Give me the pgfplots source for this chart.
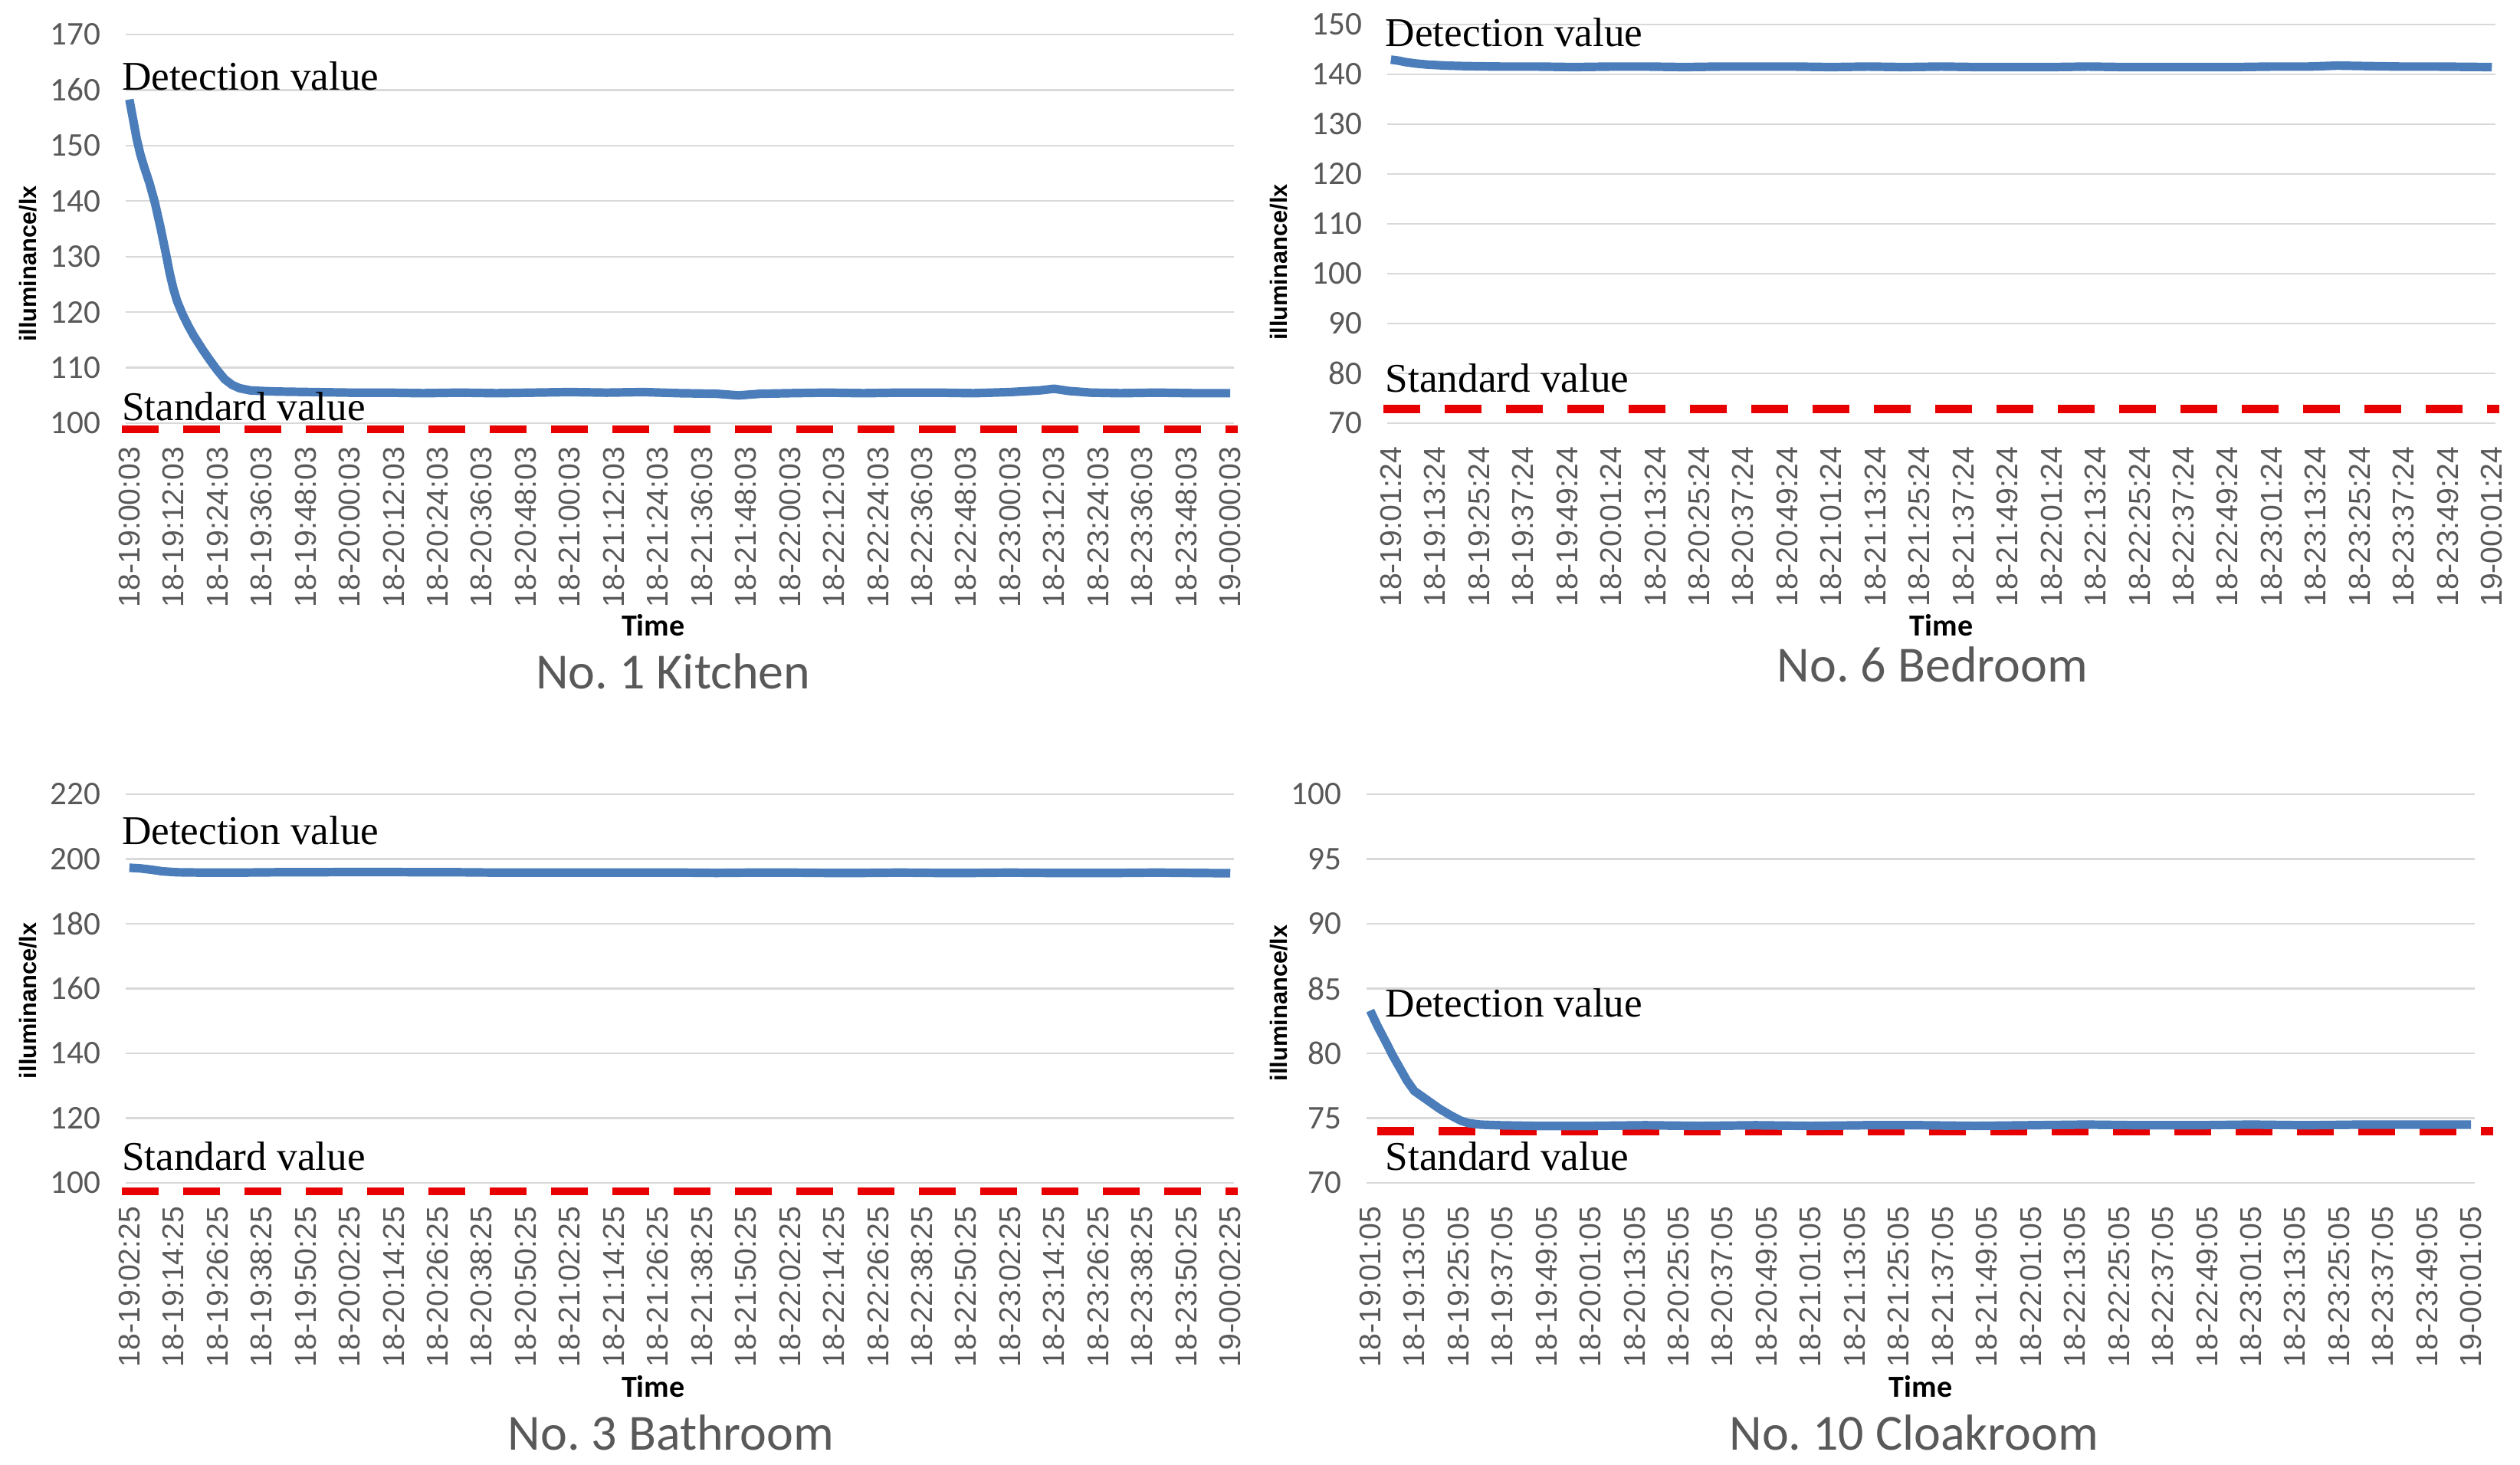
\documentclass[border=0pt]{standalone}
\usepackage{fontspec}
\setmainfont{Liberation Serif}
\newfontfamily\carlito{Carlito}
\newfontfamily\libsans{Liberation Sans}
\usepackage{pgfplots}
\pgfplotsset{compat=1.18}
\frenchspacing

\definecolor{txtgray}{HTML}{595959}
\definecolor{gridgray}{HTML}{D9D9D9}
\definecolor{curveblue}{HTML}{4A7DBA}
\definecolor{stdred}{HTML}{E80000}

\pgfplotsset{
  panel/.style={
    scale only axis, anchor=south west, width=361.5pt,
    xmin=-1, xmax=301, clip=false,
    axis line style={draw=none}, major tick length=0pt,
    ymajorgrids, grid style={draw=gridgray, line width=0.55pt},
    xtick={0,12,...,300},
    xticklabel style={font=\libsans\fontsize{9.8}{10}\selectfont, color=txtgray,
      rotate=90, anchor=east, inner sep=0pt},
    xticklabel shift=7.5pt,
    yticklabel style={font=\carlito\fontsize{10.8}{11}\selectfont, color=txtgray,
      anchor=east, inner sep=0pt},
    yticklabel shift=8pt,
    /pgf/number format/assume math mode=true,
  },
  detected/.style={color=curveblue, line width=2.8pt, line join=round, no markers},
  standard/.style={color=stdred, line width=2.6pt, dash pattern=on 12pt off 8pt, no markers},
}
\newcommand{\notefont}{\fontsize{13.3}{14}\selectfont}
\newcommand{\ylab}{\libsans\bfseries\fontsize{7.7}{8}\selectfont illuminance/lx}
\newcommand{\tlab}{\carlito\bfseries\fontsize{10}{11}\selectfont Time}
\newcommand{\ptitle}[1]{\carlito\fontsize{16.5}{18}\selectfont\color{txtgray}#1}

\begin{document}
\begin{tikzpicture}
\path[use as bounding box] (0,0) rectangle (822pt,477.5pt);

% No. 1 Kitchen
\begin{axis}[panel, at={(41pt,339.5pt)}, height=126.75pt,
  ymin=100, ymax=170, ytick={100,110,...,170},
  xticklabels={18-19:00:03,18-19:12:03,18-19:24:03,18-19:36:03,18-19:48:03,
    18-20:00:03,18-20:12:03,18-20:24:03,18-20:36:03,18-20:48:03,
    18-21:00:03,18-21:12:03,18-21:24:03,18-21:36:03,18-21:48:03,
    18-22:00:03,18-22:12:03,18-22:24:03,18-22:36:03,18-22:48:03,
    18-23:00:03,18-23:12:03,18-23:24:03,18-23:36:03,18-23:48:03,19-00:00:03}]
\addplot[standard] coordinates {(-2,98.9) (302,98.9)};
\addplot[detected] coordinates {
  (0,158.3) (1,154.8) (2,151.2) (3,148.4) (4,146.2) (5.5,143.2) (7,139.6)
  (8.5,135.2) (10,130.4) (11,127.0) (12,124.2) (13,122.0) (14.5,119.6)
  (16,117.6) (17.5,115.8) (20,113.2) (22,111.3) (24,109.5) (26,107.9)
  (28,106.9) (30,106.3) (33,105.9) (36,105.8)
  (40,105.7) (50,105.6) (60,105.5) (70,105.5) (80,105.4) (90,105.5) (100,105.4)
  (110,105.5) (120,105.6) (130,105.5) (140,105.6) (150,105.4) (160,105.3)
  (166,105.0) (172,105.3) (180,105.4) (190,105.5) (200,105.4) (210,105.5)
  (220,105.5) (230,105.4) (240,105.6) (248,105.9) (252,106.2) (256,105.8)
  (262,105.5) (270,105.4) (280,105.5) (290,105.4) (300,105.4)};
\node[anchor=base west, font=\notefont, inner sep=0pt] at (axis cs:-2.2,160) {Detection value};
\node[anchor=base west, font=\notefont, inner sep=0pt] at (axis cs:-2.2,100.5) {Standard value};
\node[rotate=90] at (axis description cs:-0.0878,0.41) {\ylab};
\node at (axis description cs:0.476,-0.519) {\tlab};
\node at (axis description cs:0.494,-0.639) {\ptitle{No. 1 Kitchen}};
\end{axis}

% No. 6 Bedroom
\begin{axis}[panel, at={(452.5pt,339.6pt)}, height=130pt,
  ymin=70, ymax=150, ytick={70,80,...,150},
  xticklabels={18-19:01:24,18-19:13:24,18-19:25:24,18-19:37:24,18-19:49:24,
    18-20:01:24,18-20:13:24,18-20:25:24,18-20:37:24,18-20:49:24,
    18-21:01:24,18-21:13:24,18-21:25:24,18-21:37:24,18-21:49:24,
    18-22:01:24,18-22:13:24,18-22:25:24,18-22:37:24,18-22:49:24,
    18-23:01:24,18-23:13:24,18-23:25:24,18-23:37:24,18-23:49:24,19-00:01:24}]
\addplot[standard] coordinates {(-2,72.8) (302,72.8)};
\addplot[detected] coordinates {
  (0,142.9) (2,142.7) (4,142.4) (7,142.1) (10,141.9) (15,141.7) (20,141.6)
  (30,141.5) (40,141.5) (50,141.4) (60,141.5) (70,141.5) (80,141.4) (90,141.5)
  (100,141.5) (110,141.5) (120,141.4) (130,141.5) (140,141.4) (150,141.5)
  (160,141.4) (170,141.4) (180,141.4) (190,141.5) (200,141.4) (210,141.4)
  (220,141.4) (230,141.4) (240,141.5) (250,141.5) (258,141.7) (266,141.6)
  (275,141.5) (285,141.5) (300,141.4)};
\node[anchor=base west, font=\notefont, inner sep=0pt] at (axis cs:-1.6,145.5) {Detection value};
\node[anchor=base west, font=\notefont, inner sep=0pt] at (axis cs:-1.6,76.1) {Standard value};
\node[rotate=90] at (axis description cs:-0.0975,0.403) {\ylab};
\node at (axis description cs:0.5,-0.507) {\tlab};
\node at (axis description cs:0.492,-0.607) {\ptitle{No. 6 Bedroom}};
\end{axis}

% No. 3 Bathroom
\begin{axis}[panel, at={(41pt,91.75pt)}, height=126.75pt,
  ymin=100, ymax=220, ytick={100,120,...,220},
  xticklabels={18-19:02:25,18-19:14:25,18-19:26:25,18-19:38:25,18-19:50:25,
    18-20:02:25,18-20:14:25,18-20:26:25,18-20:38:25,18-20:50:25,
    18-21:02:25,18-21:14:25,18-21:26:25,18-21:38:25,18-21:50:25,
    18-22:02:25,18-22:14:25,18-22:26:25,18-22:38:25,18-22:50:25,
    18-23:02:25,18-23:14:25,18-23:26:25,18-23:38:25,18-23:50:25,19-00:02:25}]
\addplot[standard] coordinates {(-2,97.4) (302,97.4)};
\addplot[detected] coordinates {
  (0,197.3) (3,197.1) (6,196.7) (9,196.2) (13,195.9) (20,195.8) (30,195.8)
  (40,195.9) (50,195.9) (60,196.0) (70,196.0) (80,195.9) (90,195.9) (100,195.8)
  (110,195.8) (120,195.8) (130,195.8) (140,195.8) (150,195.8) (160,195.7)
  (170,195.8) (180,195.8) (190,195.7) (200,195.7) (210,195.8) (220,195.7)
  (230,195.7) (240,195.8) (250,195.7) (260,195.7) (270,195.7) (280,195.8)
  (290,195.7) (300,195.6)};
\node[anchor=base west, font=\notefont, inner sep=0pt] at (axis cs:-2.2,204.4) {Detection value};
\node[anchor=base west, font=\notefont, inner sep=0pt] at (axis cs:-2.2,103.8) {Standard value};
\node[rotate=90] at (axis description cs:-0.0878,0.469) {\ylab};
\node at (axis description cs:0.476,-0.523) {\tlab};
\node at (axis description cs:0.492,-0.643) {\ptitle{No. 3 Bathroom}};
\end{axis}

% No. 10 Cloakroom
\begin{axis}[panel, at={(445.75pt,91.75pt)}, height=126.75pt,
  ymin=70, ymax=100, ytick={70,75,...,100},
  xticklabels={18-19:01:05,18-19:13:05,18-19:25:05,18-19:37:05,18-19:49:05,
    18-20:01:05,18-20:13:05,18-20:25:05,18-20:37:05,18-20:49:05,
    18-21:01:05,18-21:13:05,18-21:25:05,18-21:37:05,18-21:49:05,
    18-22:01:05,18-22:13:05,18-22:25:05,18-22:37:05,18-22:49:05,
    18-23:01:05,18-23:13:05,18-23:25:05,18-23:37:05,18-23:49:05,19-00:01:05}]
\addplot[standard] coordinates {(2,74.0) (306,74.0)};
\addplot[detected] coordinates {
  (0,83.3) (2,82.1) (4.4,80.8) (6,79.9) (8,78.9) (10,77.9) (12,77.1) (14,76.7)
  (16.5,76.2) (19,75.7) (22,75.2) (24.7,74.8) (27,74.6) (30,74.5) (35,74.45)
  (45,74.4) (60,74.4) (75,74.45) (90,74.4) (105,74.45) (120,74.4) (135,74.45)
  (150,74.45) (165,74.4) (180,74.45) (195,74.5) (210,74.45) (225,74.45)
  (240,74.5) (255,74.45) (270,74.5) (285,74.5) (300,74.5)};
\node[anchor=base west, font=\notefont, inner sep=0pt] at (axis cs:4,82.8) {Detection value};
\node[anchor=base west, font=\notefont, inner sep=0pt] at (axis cs:4,70.95) {Standard value};
\node[rotate=90] at (axis description cs:-0.0788,0.463) {\ylab};
\node at (axis description cs:0.5,-0.523) {\tlab};
\node at (axis description cs:0.494,-0.643) {\ptitle{No. 10 Cloakroom}};
\end{axis}
\end{tikzpicture}
\end{document}
